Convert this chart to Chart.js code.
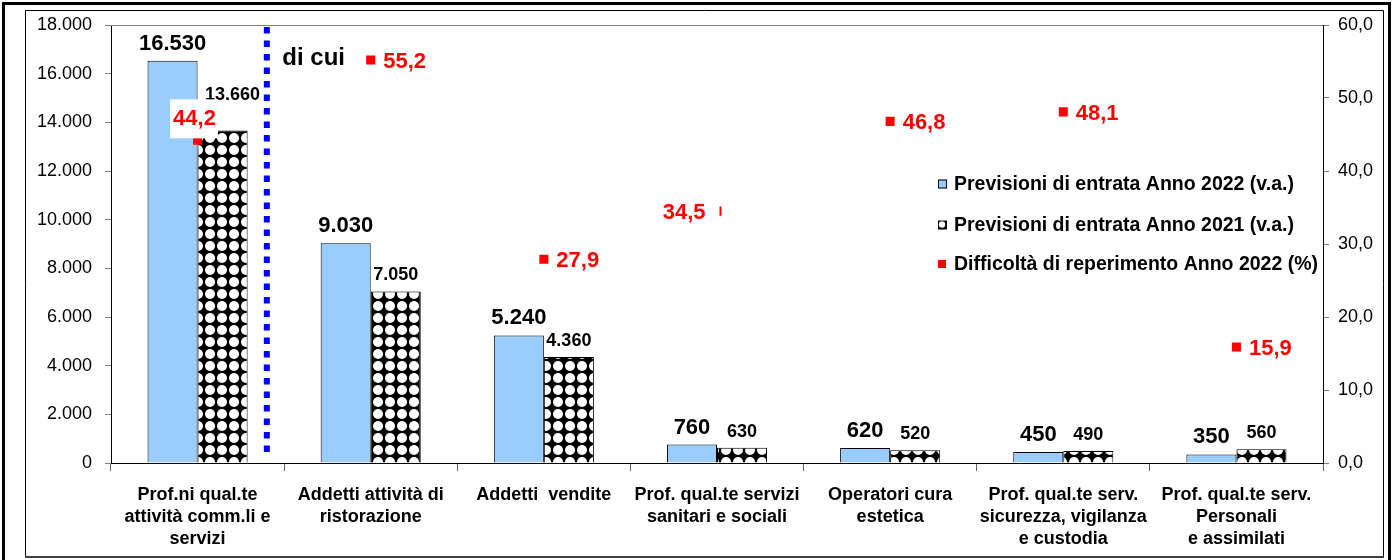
<!DOCTYPE html>
<html><head><meta charset="utf-8">
<script src="https://cdn.jsdelivr.net/npm/chart.js@4.4.1/dist/chart.umd.min.js"></script>
<style>html,body{margin:0;padding:0;background:#fff}canvas{display:block}</style>
</head><body>
<canvas id="c" width="1393" height="560"></canvas>
<script>
const categories = [
  ["Prof.ni qual.te", "attività comm.li e", "servizi"],
  ["Addetti attività di", "ristorazione"],
  ["Addetti  vendite"],
  ["Prof. qual.te servizi", "sanitari e sociali"],
  ["Operatori cura", "estetica"],
  ["Prof. qual.te serv.", "sicurezza, vigilanza", "e custodia"],
  ["Prof. qual.te serv.", "Personali", "e assimilati"]
];
const prev2022 = [16530, 9030, 5240, 760, 620, 450, 350];
const prev2021 = [13660, 7050, 4360, 630, 520, 490, 560];
const difficolta = [44.2, 55.2, 27.9, 34.5, 46.8, 48.1, 15.9];
const leftTickLabels = ["0", "2.000", "4.000", "6.000", "8.000", "10.000", "12.000", "14.000", "16.000", "18.000"];
const rightTickLabels = ["0,0", "10,0", "20,0", "30,0", "40,0", "50,0", "60,0"];
const seriesNames = ["Previsioni di entrata Anno 2022 (v.a.)", "Previsioni di entrata Anno 2021 (v.a.)", "Difficoltà di reperimento Anno 2022 (%)"];
const annotationText = "di cui";

const FONT = "'Liberation Sans', Arial, sans-serif";
Chart.defaults.font.family = FONT;
Chart.defaults.color = '#000';

function fmtThousands(n) { return String(n).replace(/\B(?=(\d{3})+(?!\d))/g, '.'); }
function fmtPct(n) { return n.toFixed(1).replace('.', ','); }

function makePattern() {
  const t = document.createElement('canvas');
  t.width = 12; t.height = 12;
  const g = t.getContext('2d');
  g.fillStyle = '#000'; g.fillRect(0, 0, 12, 12);
  g.fillStyle = '#fff';
  g.beginPath(); g.arc(6, 6, 5.0, 0, Math.PI * 2); g.fill();
  return document.getElementById('c').getContext('2d').createPattern(t, 'repeat');
}
const pattern = makePattern();

// label placement styles for the % labels
const pctLabelStyle = [
  {mode: 'aboveLeft', bg: true},
  {mode: 'right'}, {mode: 'right'},
  {mode: 'left', bg: true},
  {mode: 'right'}, {mode: 'right'}, {mode: 'right'}
];
const barLabelAdjust = {'1-0': {dx: 10, dy: -20}};

const decorPlugin = {
  id: 'decor',
  beforeDraw(chart) {
    const c = chart.ctx;
    c.save();
    c.fillStyle = '#fff'; c.fillRect(0, 0, chart.width, chart.height);
    c.restore();
  },
  afterDatasetsDraw(chart) {
    const c = chart.ctx;
    const ca = chart.chartArea;
    const xs = chart.scales.x;
    c.save();
    // top border of plot
    c.strokeStyle = '#808080'; c.lineWidth = 1;
    c.beginPath(); c.moveTo(ca.left, ca.top + 0.5); c.lineTo(ca.right, ca.top + 0.5); c.stroke();

    // dotted separator
    const p0 = xs.getPixelForValue(0), p1 = xs.getPixelForValue(1);
    const lx = p0 + 0.4 * (p1 - p0);
    c.strokeStyle = '#0000FF'; c.lineWidth = 6; c.setLineDash([6.5, 7]);
    c.beginPath(); c.moveTo(lx, ca.top + 2); c.lineTo(lx, ca.bottom - 6); c.stroke();
    c.setLineDash([]);
    c.fillStyle = '#000'; c.font = 'bold 24px ' + FONT;
    c.textAlign = 'left'; c.textBaseline = 'middle';
    c.fillText(annotationText, lx + 15.5, ca.top + 33);

    // bar value labels
    [0, 1].forEach(di => {
      const meta = chart.getDatasetMeta(di);
      const vals = chart.data.datasets[di].data;
      c.font = 'bold ' + (di === 0 ? 22 : 18) + 'px ' + FONT;
      c.textAlign = 'center'; c.textBaseline = 'alphabetic'; c.fillStyle = '#000';
      meta.data.forEach((el, i) => {
        const adj = barLabelAdjust[di + '-' + i] || {dx: 0, dy: 0};
        c.fillText(fmtThousands(vals[i]), el.x + adj.dx, el.y - 11 + adj.dy);
      });
    });

    // pct labels
    const lmeta = chart.getDatasetMeta(2);
    const lvals = chart.data.datasets[2].data;
    c.font = 'bold 22px ' + FONT; c.textBaseline = 'middle';
    lmeta.data.forEach((el, i) => {
      const st = pctLabelStyle[i];
      const txt = fmtPct(lvals[i]);
      const w = c.measureText(txt).width;
      let x, y, left, right;
      if (st.mode === 'aboveLeft') { x = el.x - 24.5; y = el.y - 22; left = x; right = x + w; c.textAlign = 'left'; }
      else if (st.mode === 'left') { x = el.x - 11.5; y = el.y + 1; left = x - w; right = x; c.textAlign = 'right'; }
      else { x = el.x + 12.5; y = el.y + 1; left = x; right = x + w; c.textAlign = 'left'; }
      if (st.bg) {
        c.fillStyle = '#fff';
        const r = st.mode === 'left' ? el.x + 2.5 : right + 2;
        c.fillRect(left - 3, y - 19, r - (left - 3), 39);
      }
      c.fillStyle = '#FF0000';
      c.fillText(txt, x, y + 1);
    });

    // legend
    const lgX = ca.right - 385, rows = [ca.top + 159, ca.top + 200, ca.top + 239];
    c.font = 'bold 19.5px ' + FONT; c.textAlign = 'left'; c.textBaseline = 'middle';
    rows.forEach((ry, k) => {
      if (k === 0) {
        c.fillStyle = '#99CCFF'; c.fillRect(lgX, ry - 4.5, 9, 9);
        c.strokeStyle = '#000'; c.lineWidth = 1; c.strokeRect(lgX + 0.5, ry - 4, 8, 8);
      } else if (k === 1) {
        c.fillStyle = '#000'; c.fillRect(lgX, ry - 4.5, 9, 9);
        c.fillStyle = '#fff'; c.beginPath(); c.arc(lgX + 4, ry - 0.5, 3.2, 0, Math.PI * 2); c.fill();
      } else {
        c.fillStyle = '#FF0000'; c.fillRect(lgX, ry - 4, 8, 8);
      }
      c.fillStyle = '#000';
      c.fillText(seriesNames[k], lgX + 16, ry + 1);
    });
    c.restore();
  },
  afterDraw(chart) {
    const c = chart.ctx;
    c.save();
    // inner frame
    c.strokeStyle = '#000'; c.lineWidth = 1;
    c.beginPath();
    c.moveTo(25.5, 557); c.lineTo(25.5, 10.5); c.lineTo(1383.5, 10.5); c.lineTo(1383.5, 557);
    c.stroke();
    c.fillStyle = '#404040'; c.fillRect(25, 556, 1359, 2);
    // outer frame (left, top, right)
    c.fillStyle = '#000';
    c.fillRect(2, 2, 3, chart.height - 2);
    c.fillRect(2, 2, chart.width - 4, 3);
    c.fillRect(chart.width - 5, 2, 3, chart.height - 2);
    c.restore();
  }
};

new Chart(document.getElementById('c'), {
  data: {
    labels: categories,
    datasets: [
      {type: 'bar', label: seriesNames[0], data: prev2022, backgroundColor: '#99CCFF', borderColor: '#000', borderWidth: 1, borderSkipped: 'bottom', yAxisID: 'y', order: 1, categoryPercentage: 0.578, barPercentage: 1},
      {type: 'bar', label: seriesNames[1], data: prev2021, backgroundColor: pattern, borderColor: '#000', borderWidth: 1, borderSkipped: 'bottom', yAxisID: 'y', order: 2, categoryPercentage: 0.578, barPercentage: 1},
      {type: 'line', label: seriesNames[2], data: difficolta, showLine: false, pointStyle: 'rect', pointRadius: 6.4, pointBackgroundColor: '#FF0000', pointBorderWidth: 0, pointBorderColor: '#FF0000', yAxisID: 'y1', order: 0}
    ]
  },
  options: {
    responsive: false,
    animation: false,
    devicePixelRatio: 1,
    layout: {padding: {top: 25, left: 0, right: 0, bottom: 0}},
    plugins: {legend: {display: false}, tooltip: {enabled: false}},
    scales: {
      x: {
        grid: {offset: true, drawOnChartArea: false, drawTicks: true, tickLength: 8, color: '#606060'},
        border: {color: '#000', width: 1},
        ticks: {font: {size: 18, weight: 'bold', lineHeight: 1.222}, color: '#000', padding: 13, maxRotation: 0, autoSkip: false},
        afterFit(s) { s.height = 97; }
      },
      y: {
        position: 'left', min: 0, max: 18000,
        ticks: {stepSize: 2000, callback: (v, i) => leftTickLabels[i], font: {size: 18}, color: '#000', padding: 13},
        grid: {drawOnChartArea: false, drawTicks: true, tickLength: 6, color: '#808080'},
        border: {color: '#000', width: 1},
        afterFit(s) { s.width = 111; }
      },
      y1: {
        position: 'right', min: 0, max: 60,
        ticks: {stepSize: 10, callback: (v, i) => rightTickLabels[i], font: {size: 18}, color: '#000', padding: 9},
        grid: {drawOnChartArea: false, drawTicks: true, tickLength: 6, color: '#808080'},
        border: {color: '#000', width: 1},
        afterFit(s) { s.width = 70; }
      }
    }
  },
  plugins: [decorPlugin]
});
</script>
</body></html>
